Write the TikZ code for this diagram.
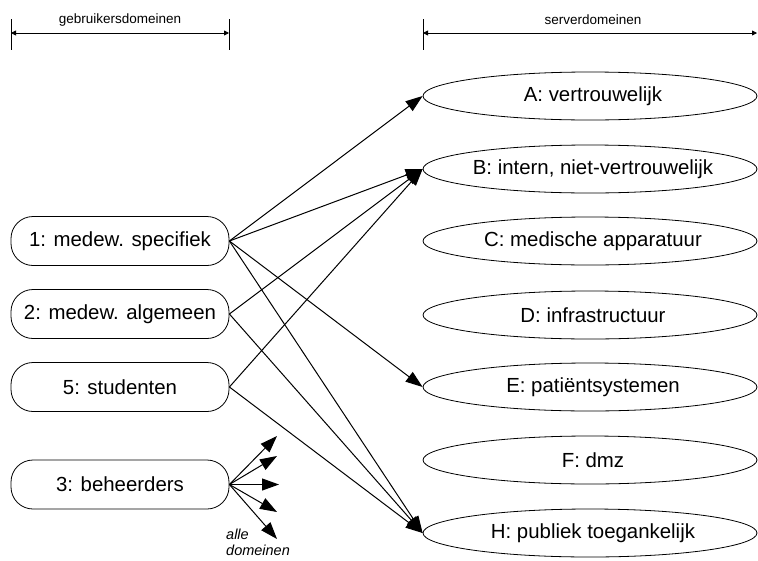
\documentclass[tikz,border=0pt]{standalone}
\usepackage{fontspec}
\setmainfont{Liberation Sans}
\usetikzlibrary{arrows.meta,shapes.geometric}
\begin{document}
\begin{tikzpicture}[x=1pt,y=-1pt,
  userbox/.style={draw, line width=0.8pt, rounded corners=22pt, minimum width=218pt, minimum height=49pt, inner sep=0pt, font=\fontsize{20.4}{24}\selectfont},
  srvbox/.style={draw, ellipse, line width=0.8pt, minimum width=334pt, minimum height=48pt, inner sep=0pt, font=\fontsize{20.4}{24}\selectfont},
  conn/.style={line width=1pt, -{Triangle[length=17pt,width=12pt]}},
  hdr/.style={line width=0.8pt, {Triangle[length=5pt,width=5pt]}-{Triangle[length=5pt,width=5pt]}},
  hdrtxt/.style={font=\fontsize{13.5}{16}\selectfont, inner sep=0pt},
  tick/.style={line width=0.8pt}]
\useasboundingbox (0,0) rectangle (758,560);
% headers
\coordinate (gl) at (11,33); \coordinate (gr) at (229,33);
\coordinate (gl1) at (11,19); \coordinate (gl2) at (11,50);
\coordinate (gr1) at (229,19); \coordinate (gr2) at (229,50);
\draw[tick] (gl1) -- (gl2);
\draw[tick] (gr1) -- (gr2);
\draw[hdr] (gl) -- (gr);
\node[hdrtxt] (gtxt) at (120,20) {gebruikersdomeinen};
\coordinate (sl) at (423,33); \coordinate (sr) at (757,33);
\coordinate (sl1) at (423,19); \coordinate (sl2) at (423,50);
\draw[tick] (sl1) -- (sl2);
\draw[hdr] (sl) -- (sr);
\node[hdrtxt] (stxt) at (593,20) {serverdomeinen};
% user nodes
\node[userbox] (u1) at (120,241) {1: medew. specifiek};
\node[userbox] (u2) at (120,314) {2: medew. algemeen};
\node[userbox] (u5) at (120,387) {5: studenten};
\node[userbox] (u3) at (120,484.5) {3: beheerders};
% server nodes
\node[srvbox] (A) at (590,96) {\makebox[0pt]{\hspace{6pt}A: vertrouwelijk}};
\node[srvbox] (B) at (590,169) {\makebox[0pt]{\hspace{6pt}B: intern, niet-vertrouwelijk}};
\node[srvbox] (C) at (590,241) {\makebox[0pt]{\hspace{6pt}C: medische apparatuur}};
\node[srvbox] (D) at (590,315) {\makebox[0pt]{\hspace{6pt}D: infrastructuur}};
\node[srvbox] (E) at (590,387) {\makebox[0pt]{\hspace{6pt}E: patiëntsystemen}};
\node[srvbox] (F) at (590,460) {\makebox[0pt]{\hspace{6pt}F: dmz}};
\node[srvbox] (H) at (590,533) {\makebox[0pt]{\hspace{6pt}H: publiek toegankelijk}};
% connectors
\draw[conn] (u1.east) -- (A.west);
\draw[conn] (u1.east) -- (B.west);
\draw[conn] (u1.east) -- (E.west);
\draw[conn] (u1.east) -- (H.west);
\draw[conn] (u2.east) -- (B.west);
\draw[conn] (u2.east) -- (H.west);
\draw[conn] (u5.east) -- (B.west);
\draw[conn] (u5.east) -- (H.west);
% beheerders arrows
\coordinate (t1) at (277,436);
\coordinate (t2) at (277,456);
\coordinate (t3) at (279,484.5);
\coordinate (t4) at (277,512);
\coordinate (t5) at (277,539);
\foreach \t in {t1,t2,t3,t4,t5} \draw[conn] (u3.east) -- (\t);
\node[font=\fontsize{14.5}{15.5}\selectfont\itshape, align=left, anchor=north west, inner sep=0pt] (alle) at (226,529) {alle\\domeinen};
\end{tikzpicture}
\end{document}
